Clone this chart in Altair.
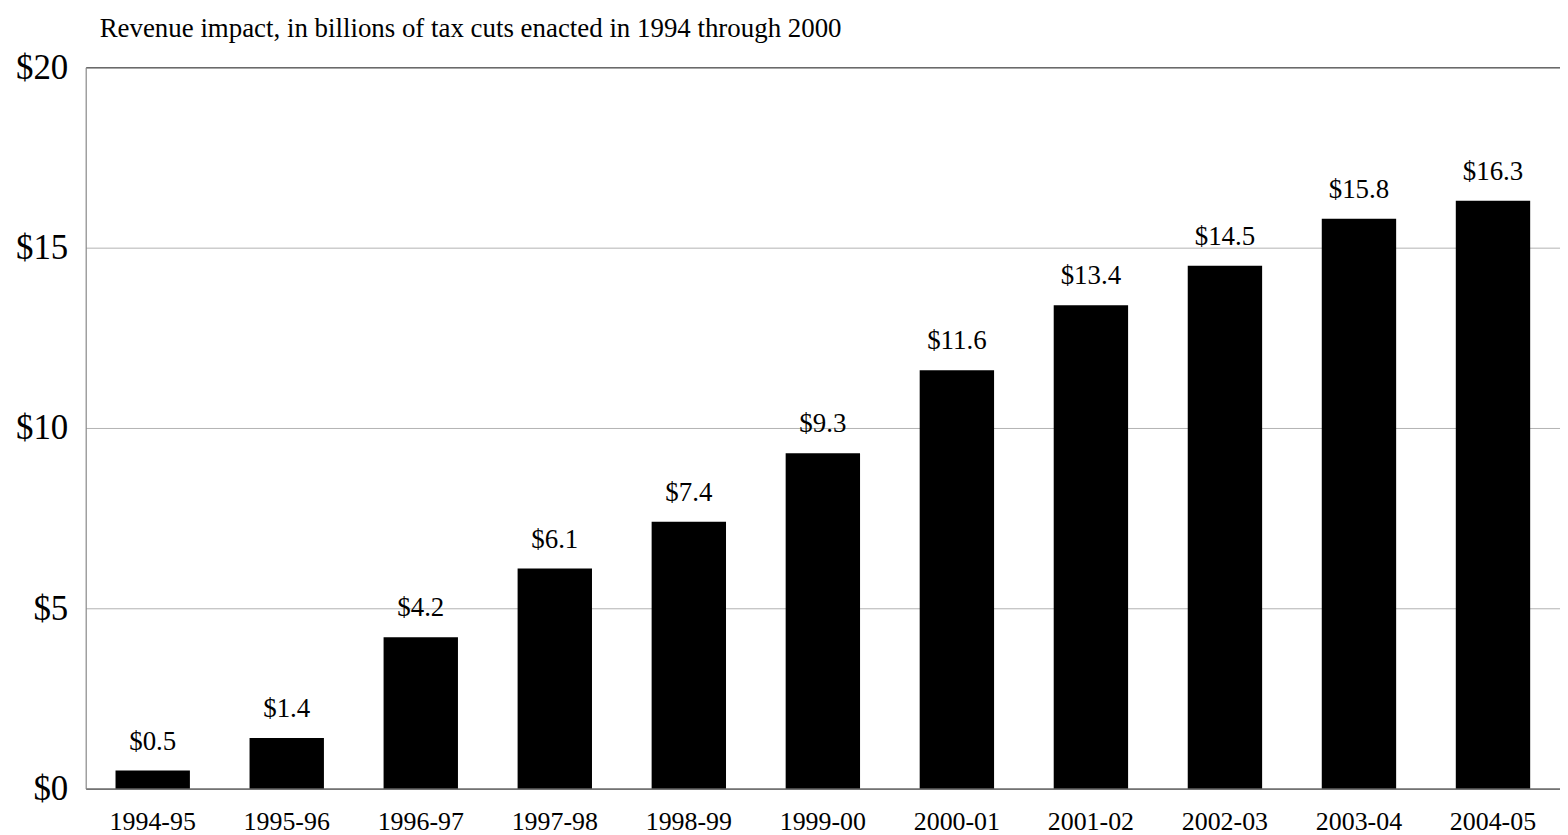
import altair as alt
import pandas as pd

# fiscal years and revenue impact (billions)
years = ['1994-95', '1995-96', '1996-97', '1997-98', '1998-99', '1999-00',
         '2000-01', '2001-02', '2002-03', '2003-04', '2004-05']
impact = [0.5, 1.4, 4.2, 6.1, 7.4, 9.3, 11.6, 13.4, 14.5, 15.8, 16.3]
y_ticks = [0, 5, 10, 15, 20]

df = pd.DataFrame({'Year': years, 'Impact': impact})

font = 'Liberation Serif'

base = alt.Chart(df).encode(
    x=alt.X('Year:N', sort=years, title=None,
            scale=alt.Scale(paddingInner=0.445, paddingOuter=0.2225),
            axis=alt.Axis(labelAngle=0, ticks=False, labelFontSize=26, labelPadding=20,
                          labelColor='black', domainColor='#333333', labelFont=font)),
    y=alt.Y('Impact:Q', title=None,
            scale=alt.Scale(domain=[0, 20], nice=False),
            axis=alt.Axis(values=y_ticks, format='$.0f', ticks=False, labelFontSize=35,
                          labelPadding=18, labelColor='black', labelFont=font,
                          domainColor='#808080',
                          gridColor=alt.condition(alt.datum.value == 20,
                                                  alt.value('#222222'), alt.value('#b3b3b3')))),
)

bars = base.mark_bar(color='black')
labels = base.mark_text(baseline='alphabetic', dy=-21, fontSize=27, font=font, color='black').encode(
    text=alt.Text('Impact:Q', format='$.1f'))

chart = (bars + labels).properties(
    width=1480,
    height=724,
    autosize=alt.AutoSizeParams(type='none'),
    padding={'left': 78, 'top': 58, 'right': 0, 'bottom': 45},
    title=alt.TitleParams('Revenue impact, in billions of tax cuts enacted in 1994 through 2000',
                          anchor='start', frame='group', dx=14, dy=32, fontSize=27, font=font,
                          fontWeight='normal', color='black', baseline='alphabetic', offset=18),
).configure_view(stroke=None).configure(font=font)

chart.save('out.html', embed_options={'renderer': 'svg', 'actions': False})
